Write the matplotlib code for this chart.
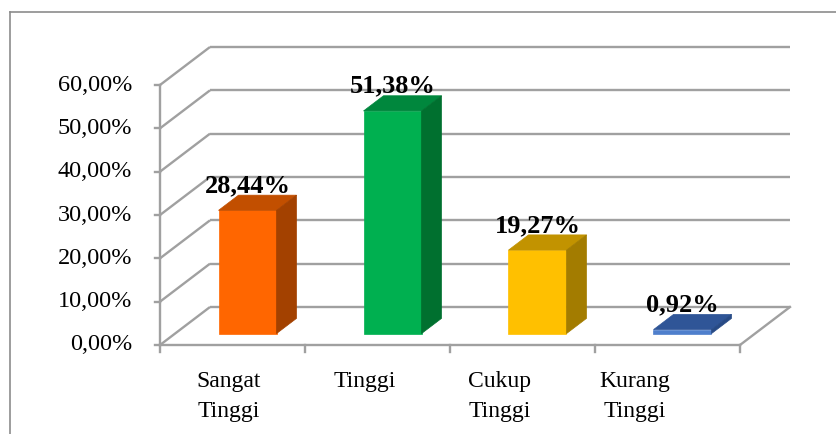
import matplotlib
matplotlib.use("Agg")
import matplotlib.pyplot as plt
from matplotlib.patches import Polygon
from matplotlib.lines import Line2D

# ---- data ----
categories = [["Sangat", "Tinggi"], ["Tinggi"], ["Cukup", "Tinggi"], ["Kurang", "Tinggi"]]
values = [28.44, 51.38, 19.27, 0.92]
value_labels = ["28,44%", "51,38%", "19,27%", "0,92%"]
y_ticks = [0, 10, 20, 30, 40, 50, 60]
y_tick_labels = ["0,00%", "10,00%", "20,00%", "30,00%", "40,00%", "50,00%", "60,00%"]
front_colors = ["#FF6600", "#00B050", "#FFC000", "#4F7FCC"]
top_colors = ["#C24F00", "#00873D", "#C29300", "#2F5597"]
side_colors = ["#A34100", "#00702F", "#A37C00", "#274A85"]

W, H = 837, 434
fig = plt.figure(figsize=(W / 100, H / 100), dpi=100)
ax = fig.add_axes([0, 0, 1, 1])
ax.set_axis_off()

# pixel geometry of the 3D box
X0, Y0 = 160.0, 345.0      # front-left-bottom corner (px)
CAT_W = 145.0              # px per category
K = 4.3333                 # px per percent
DX = 50.0 / CAT_W          # depth offset in category units
DY = 38.0 / K              # depth offset in percent units
ax.set_xlim(-X0 / CAT_W, (W - X0) / CAT_W)
ax.set_ylim((Y0 - H) / K, Y0 / K)

n = len(values)
gc = "#A0A0A0"
glw = 1.7

# gridlines: left wall diagonals + back wall horizontals
for v, lab in zip(y_ticks, y_tick_labels):
    ax.plot([0, DX], [v, v + DY], color=gc, lw=glw, solid_capstyle="butt", zorder=1)
    ax.plot([DX, n + DX], [v + DY, v + DY], color=gc, lw=glw, solid_capstyle="butt", zorder=1)
    ax.plot([-0.035, 0], [v, v], color=gc, lw=glw, zorder=1)
    ax.text((132 - X0) / CAT_W, v, lab, ha="right", va="center",
            fontsize=17.5, family="Liberation Serif", color="black")

# front vertical axis
ax.plot([0, 0], [0, max(y_ticks)], color=gc, lw=glw, zorder=1)
# floor edges
ax.plot([0, n], [0, 0], color=gc, lw=glw, zorder=1)
ax.plot([n, n + DX], [0, DY], color=gc, lw=glw, zorder=1)
for i in range(n + 1):
    ax.plot([i, i], [0, -1.7], color=gc, lw=glw, zorder=1)

# bars
d0, d1 = 0.3, 0.7
bw = 0.4
for i, v in enumerate(values):
    xl = i + 0.5 - bw / 2 + d0 * DX
    xr = xl + bw
    yb = d0 * DY
    yt = yb + v
    ddx = (d1 - d0) * DX
    ddy = (d1 - d0) * DY
    front = Polygon([(xl, yb), (xr, yb), (xr, yt), (xl, yt)], closed=True,
                    facecolor=front_colors[i], edgecolor=front_colors[i], lw=0.5, zorder=3)
    top = Polygon([(xl, yt), (xr, yt), (xr + ddx, yt + ddy), (xl + ddx, yt + ddy)], closed=True,
                  facecolor=top_colors[i], edgecolor=top_colors[i], lw=0.5, zorder=3)
    side = Polygon([(xr, yb), (xr + ddx, yb + ddy), (xr + ddx, yt + ddy), (xr, yt)], closed=True,
                   facecolor=side_colors[i], edgecolor=side_colors[i], lw=0.5, zorder=3)
    for p in (front, top, side):
        ax.add_patch(p)
    ax.text((xl + xr) / 2, yt + ddy + 0.7, value_labels[i], ha="center", va="baseline",
            fontsize=19, fontweight="bold", family="Liberation Serif", color="black", zorder=5)

# category labels
for i, lines in enumerate(categories):
    lx = (229 + 135.3 * i - X0) / CAT_W
    for j, s in enumerate(lines):
        by = 387.5 + 30 * j
        ax.text(lx, (Y0 - by) / K, s, ha="center", va="baseline",
                fontsize=17, family="Liberation Serif", color="black")

# chart-area border
bx, by_ = 9.5 / W, 1 - 11.5 / H
fig.add_artist(Line2D([bx, bx], [0, by_], color="#8C8C8C", lw=1.2, transform=fig.transFigure))
fig.add_artist(Line2D([bx, 1], [by_, by_], color="#8C8C8C", lw=1.2, transform=fig.transFigure))

fig.savefig("out.png", dpi=100, facecolor="white")
